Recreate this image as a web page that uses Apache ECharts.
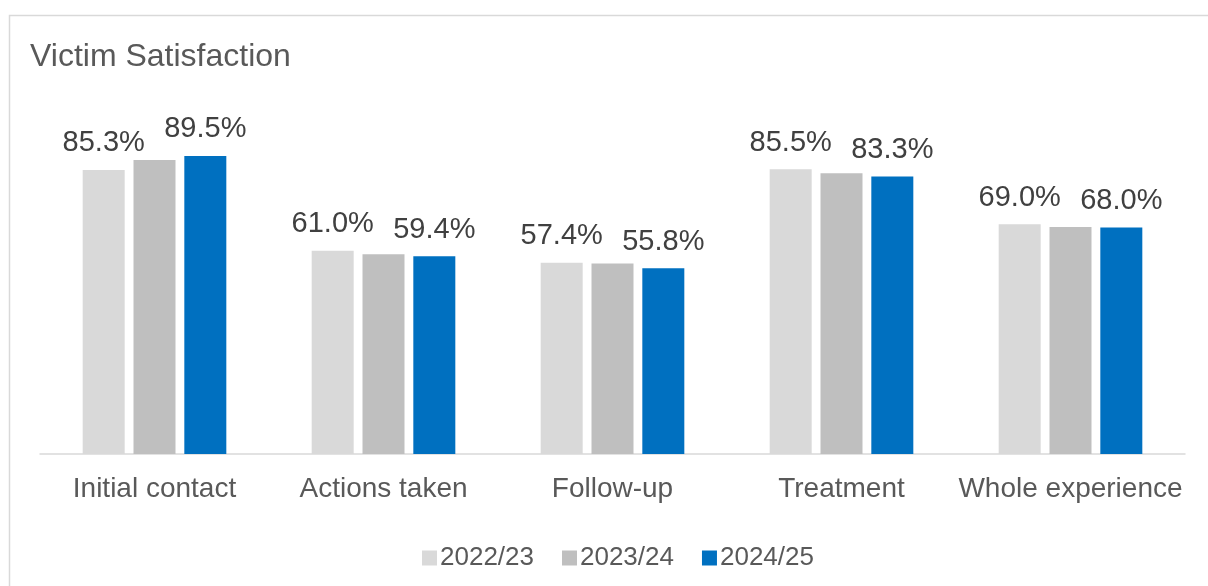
<!DOCTYPE html>
<html>
<head>
<meta charset="utf-8">
<script src="https://cdn.jsdelivr.net/npm/echarts@6/dist/echarts.min.js"></script>
<style>
  html, body { margin: 0; padding: 0; background: #fff; }
  #chart { width: 1208px; height: 586px; }
</style>
</head>
<body>
<div id="chart"></div>
<script>
var categories = ['Initial contact', 'Actions taken', 'Follow-up', 'Treatment', 'Whole experience'];
var seriesNames = ['2022/23', '2023/24', '2024/25'];
var values2223 = [85.3, 61.0, 57.4, 85.5, 69.0];
var values2324 = [88.3, 60.0, 57.2, 84.3, 68.2];   // no labels in the original
var values2425 = [89.5, 59.4, 55.8, 83.3, 68.0];
var seriesColors = ['#D9D9D9', '#BFBFBF', '#0070C0'];
var showLabels = [true, false, true];

var font = '"Liberation Sans", Arial, sans-serif';
var chart = echarts.init(document.getElementById('chart'));

var allValues = [values2223, values2324, values2425];
var series = [];
for (var i = 0; i < seriesNames.length; i++) {
    series.push({
        name: seriesNames[i],
        type: 'bar',
        data: allValues[i],
        barWidth: 42,
        barGap: '21%',
        itemStyle: { color: seriesColors[i] },
        label: {
            show: showLabels[i],
            position: 'top',
            distance: 12,
            fontFamily: font,
            fontSize: 29,
            color: '#404040',
            formatter: function (p) { return p.value.toFixed(1) + '%'; }
        }
    });
}

var option = {
    animation: false,
    textStyle: { fontFamily: font },
    title: {
        text: 'Victim Satisfaction',
        left: 30,
        top: 41,
        padding: 0,
        textStyle: { fontFamily: font, fontSize: 32, fontWeight: 'normal', color: '#595959' }
    },
    graphic: [{
        type: 'polyline',
        shape: { points: [[9.5, 600], [9.5, 15.5], [1220, 15.5]] },
        style: { stroke: '#D9D9D9', lineWidth: 1.5, fill: null },
        silent: true
    }],
    legend: {
        data: seriesNames,
        left: 417,
        top: 540,
        itemWidth: 15,
        itemHeight: 15,
        itemGap: 28,
        icon: 'rect',
        textStyle: { fontFamily: font, fontSize: 26, color: '#595959', padding: [0, 0, 0, -2] }
    },
    grid: { left: 40, right: 23, top: 121, bottom: 132 },
    xAxis: {
        type: 'category',
        data: categories,
        axisLine: { show: true, lineStyle: { color: '#D9D9D9', width: 1.5 } },
        axisTick: { show: false },
        axisLabel: { fontFamily: font, fontSize: 28, color: '#595959', margin: 21, interval: 0 }
    },
    yAxis: {
        type: 'value',
        min: 0,
        max: 100,
        show: false,
        splitLine: { show: false }
    },
    series: series
};

chart.setOption(option);
</script>
</body>
</html>
